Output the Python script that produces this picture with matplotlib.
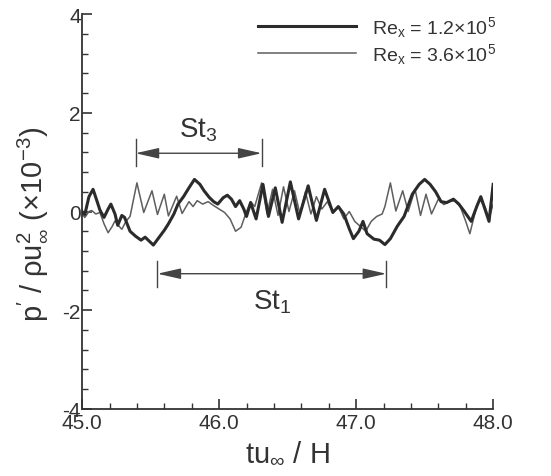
import matplotlib
matplotlib.use("Agg")
import matplotlib.pyplot as plt
from matplotlib.patches import ArrowStyle

plt.rcParams['font.family'] = ['Liberation Sans', 'DejaVu Sans']
plt.rcParams['mathtext.fontset'] = 'custom'
plt.rcParams['mathtext.rm'] = 'Liberation Sans'
plt.rcParams['mathtext.it'] = 'Liberation Sans'
plt.rcParams['mathtext.default'] = 'regular'
plt.rcParams['axes.unicode_minus'] = False

# Re_x = 1.2e5 (thick)
t_low = [45.00, 45.02, 45.05, 45.08, 45.11, 45.13, 45.16, 45.19, 45.21, 45.24,
         45.26, 45.29, 45.31, 45.35, 45.39, 45.43, 45.46, 45.49, 45.52, 45.56,
         45.60, 45.63, 45.67, 45.70, 45.74, 45.78, 45.82, 45.86, 45.89, 45.93,
         45.96, 45.99, 46.03, 46.06, 46.09, 46.12, 46.15, 46.18, 46.20, 46.23,
         46.27, 46.32, 46.36, 46.41, 46.46, 46.52, 46.58, 46.65, 46.71, 46.77,
         46.83, 46.87, 46.91, 46.95, 46.98, 47.02, 47.05, 47.08, 47.13, 47.17,
         47.21, 47.25, 47.30, 47.35, 47.41, 47.46, 47.50, 47.54, 47.58, 47.62,
         47.66, 47.71, 47.75, 47.79, 47.84, 47.88, 47.91, 47.94, 47.97, 48.00]
p_low = [0.00, -0.06, 0.30, 0.45, 0.20, 0.03, -0.12, 0.05, 0.15, -0.05,
         -0.28, -0.08, -0.12, -0.40, -0.50, -0.58, -0.52, -0.60, -0.68, -0.53,
         -0.38, -0.25, -0.05, 0.15, 0.30, 0.48, 0.65, 0.55, 0.42, 0.28,
         0.20, 0.15, 0.28, 0.33, 0.25, 0.10, 0.22, 0.05, -0.10, 0.18,
         -0.15, 0.55, -0.10, 0.48, -0.22, 0.60, -0.15, 0.52, -0.18, 0.45,
         -0.02, 0.10, -0.05, -0.35, -0.55, -0.40, -0.20, -0.45, -0.56, -0.58,
         -0.67, -0.55, -0.30, -0.10, 0.35, 0.55, 0.65, 0.55, 0.40, 0.20,
         0.18, 0.25, 0.15, 0.00, -0.20, 0.10, 0.30, 0.05, -0.20, 0.55]

# Re_x = 3.6e5 (thin)
t_high = [45.00, 45.02, 45.05, 45.07, 45.10, 45.13, 45.16, 45.19, 45.22, 45.24,
          45.27, 45.29, 45.32, 45.35, 45.40, 45.45, 45.51, 45.55, 45.60, 45.63,
          45.69, 45.73, 45.78, 45.81, 45.84, 45.88, 45.92, 45.96, 46.00, 46.04,
          46.08, 46.12, 46.16, 46.20, 46.23, 46.26, 46.31, 46.35, 46.39, 46.43,
          46.47, 46.51, 46.55, 46.59, 46.63, 46.67, 46.71, 46.75, 46.79, 46.83,
          46.87, 46.91, 46.95, 46.99, 47.03, 47.07, 47.11, 47.15, 47.19, 47.21,
          47.25, 47.29, 47.34, 47.38, 47.43, 47.47, 47.51, 47.55, 47.60, 47.64,
          47.68, 47.72, 47.76, 47.80, 47.83, 47.87, 47.90, 47.94, 47.97, 48.00]
p_high = [-0.05, -0.12, 0.00, 0.02, -0.05, -0.02, -0.25, -0.43, -0.30, -0.19,
          -0.30, -0.36, -0.20, -0.10, 0.58, -0.02, 0.42, -0.06, 0.35, -0.09,
          0.31, -0.04, 0.20, 0.10, 0.22, 0.15, 0.20, 0.12, 0.05, -0.02,
          -0.15, -0.40, -0.32, 0.00, 0.20, 0.10, 0.58, -0.05, 0.45, -0.08,
          0.50, 0.00, 0.42, -0.05, 0.40, -0.05, 0.30, 0.05, 0.20, -0.02,
          0.10, -0.15, 0.00, -0.20, -0.30, -0.40, -0.20, -0.10, -0.05, 0.10,
          0.58, 0.01, 0.42, 0.00, 0.45, -0.08, 0.35, -0.05, 0.25, 0.14,
          0.20, 0.22, 0.10, -0.20, -0.45, 0.00, 0.25, 0.10, -0.15, 0.15]

labels = [r'Re$_x$ = 1.2$\times$10$^5$', r'Re$_x$ = 3.6$\times$10$^5$']
st3_span = [45.39, 46.31]
st1_span = [45.55, 47.22]
xticks = [45.0, 46.0, 47.0, 48.0]
yticks = [-4, -2, 0, 2, 4]

fig = plt.figure(figsize=(5.51, 4.77), dpi=100)
ax = fig.add_axes([0.149, 0.1405, 0.746, 0.828])

ax.plot(t_low, p_low, color='#2b2b2b', lw=2.2, label=labels[0], zorder=3)
ax.plot(t_high, p_high, color='#5e5e5e', lw=1.1, label=labels[1], zorder=2)

ax.set_xlim(45, 48)
ax.set_ylim(-4, 4)
ax.set_xticks(xticks)
ax.set_xticklabels([f'{v:.1f}' for v in xticks])
ax.set_yticks(yticks)
ax.set_xticks([45 + 0.2 * i for i in range(16)], minor=True)
ax.set_yticks([-4 + 0.4 * i for i in range(21)], minor=True)
for s in ['top', 'right']:
    ax.spines[s].set_visible(False)
for s in ['left', 'bottom']:
    ax.spines[s].set_color('#333333')
    ax.spines[s].set_linewidth(1.3)
ax.tick_params(which='both', direction='in', color='#333333', labelcolor='#333333')
ax.tick_params(which='major', length=7, width=1.2, labelsize=15)
ax.tick_params(which='minor', length=4, width=1.0)
ax.tick_params(axis='y', pad=1)
ax.tick_params(axis='x', pad=3)

ax.set_xlabel(r'tu$_\infty$ / H', fontsize=21, color='#333333')
ax.set_ylabel(r"p$'$ / $\rho$u$_\infty^2$ ($\times$10$^{-3}$)", fontsize=21, color='#333333')
ax.xaxis.set_label_coords(0.5, -0.075)
ax.yaxis.set_label_coords(-0.08, 0.47)

leg = ax.legend(loc='upper right', bbox_to_anchor=(1.05, 1.045), frameon=False,
                fontsize=14, handlelength=5.0, handletextpad=0.85, labelspacing=0.12)
for txt in leg.get_texts():
    txt.set_color('#333333')

astyle = ArrowStyle('<|-|>', head_length=1.1, head_width=0.25)
gray = '#444444'
# St3
ax.annotate('', xy=(st3_span[0], 1.18), xytext=(st3_span[1], 1.18),
            arrowprops=dict(arrowstyle=astyle, color=gray, lw=1.0,
                            shrinkA=0, shrinkB=0, mutation_scale=13))
for x in st3_span:
    ax.plot([x, x], [0.92, 1.47], color=gray, lw=1.0)
ax.text(sum(st3_span) / 2, 1.67, r'St$_3$', ha='center', va='center',
        fontsize=20, color='#333333')
# St1
ax.annotate('', xy=(st1_span[0], -1.26), xytext=(st1_span[1], -1.26),
            arrowprops=dict(arrowstyle=astyle, color=gray, lw=1.0,
                            shrinkA=0, shrinkB=0, mutation_scale=13))
for x in st1_span:
    ax.plot([x, x], [-1.0, -1.53], color=gray, lw=1.0)
ax.text(sum(st1_span) / 2, -1.82, r'St$_1$', ha='center', va='center',
        fontsize=20, color='#333333')

fig.savefig('out.png', dpi=100)
